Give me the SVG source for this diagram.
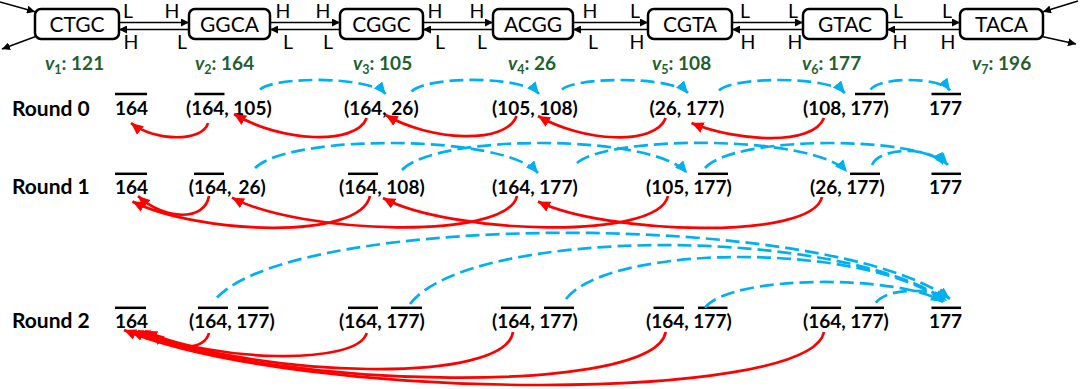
<svg xmlns="http://www.w3.org/2000/svg" width="1080" height="389" viewBox="0 0 1080 389">
<style>
.box{fill:#fff;stroke:#000;stroke-width:2.5}
.nt{font-family:Lato,"Liberation Sans",sans-serif;font-size:21px;text-anchor:middle;fill:#000}
.lb{font-family:Lato,"Liberation Sans",sans-serif;font-size:19.5px;text-anchor:middle;fill:#000}
.vl{font-family:Lato,"Liberation Sans",sans-serif;font-size:19px;font-weight:bold;fill:#1f5f32}
.rd{font-family:Lato,"Liberation Sans",sans-serif;font-size:21px;font-weight:bold;fill:#000}
.num{font-family:Lato,"Liberation Sans",sans-serif;font-size:19px;font-weight:bold;fill:#000}
.ol{stroke:#000;stroke-width:2.5}
.k{stroke:#000;stroke-width:1.5;fill:none;marker-end:url(#ak)}
.red{fill:none;stroke:#ff0000;stroke-width:2.7;marker-end:url(#ar)}
.blue{fill:none;stroke:#00b0f0;stroke-width:2.7;stroke-dasharray:14 6;marker-end:url(#ab)}
</style>
<defs>
<marker id="ak" markerWidth="9" markerHeight="8" refX="8" refY="4" orient="auto" markerUnits="userSpaceOnUse"><path d="M0,0 L8,4 L0,8 z" fill="#000"/></marker>
<marker id="ar" markerWidth="13" markerHeight="11" refX="12" refY="5.5" orient="auto" markerUnits="userSpaceOnUse"><path d="M0,0 L12,5.5 L0,11 z" fill="#ff0000"/></marker>
<marker id="ab" markerWidth="13" markerHeight="11" refX="12" refY="5.5" orient="auto" markerUnits="userSpaceOnUse"><path d="M0,0 L12,5.5 L0,11 z" fill="#00b0f0"/></marker>
</defs>
<rect width="1080" height="389" fill="#fff"/>

<g id="nodes">
<g id="n1"><rect class="box" x="35" y="9" width="84" height="30" rx="6"/><text class="nt" x="77" y="31.5">CTGC</text></g>
<g id="n2"><rect class="box" x="189" y="9" width="81" height="30" rx="6"/><text class="nt" x="229.5" y="31.5">GGCA</text></g>
<g id="n3"><rect class="box" x="340" y="9" width="83" height="30" rx="6"/><text class="nt" x="381.5" y="31.5">CGGC</text></g>
<g id="n4"><rect class="box" x="493" y="9" width="80" height="30" rx="6"/><text class="nt" x="533" y="31.5">ACGG</text></g>
<g id="n5"><rect class="box" x="648" y="9" width="84" height="30" rx="6"/><text class="nt" x="690" y="31.5">CGTA</text></g>
<g id="n6"><rect class="box" x="803" y="9" width="84" height="30" rx="6"/><text class="nt" x="845" y="31.5">GTAC</text></g>
<g id="n7"><rect class="box" x="960" y="9" width="83" height="30" rx="6"/><text class="nt" x="1001.5" y="31.5">TACA</text></g>
</g>

<g id="edge-labels">
<text class="lb" x="128" y="18">L</text><text class="lb" x="172" y="18">H</text><text class="lb" x="131" y="49">H</text><text class="lb" x="182" y="49">L</text>
<text class="lb" x="283" y="18">H</text><text class="lb" x="323" y="18">H</text><text class="lb" x="288" y="49">L</text><text class="lb" x="328" y="49">L</text>
<text class="lb" x="435" y="18">H</text><text class="lb" x="477" y="18">H</text><text class="lb" x="440" y="49">L</text><text class="lb" x="482" y="49">L</text>
<text class="lb" x="590" y="18">H</text><text class="lb" x="635" y="18">L</text><text class="lb" x="593" y="49">L</text><text class="lb" x="637" y="49">H</text>
<text class="lb" x="745" y="18">L</text><text class="lb" x="793" y="18">L</text><text class="lb" x="748" y="49">H</text><text class="lb" x="795" y="49">H</text>
<text class="lb" x="898" y="18">L</text><text class="lb" x="947" y="18">L</text><text class="lb" x="900" y="49">H</text><text class="lb" x="948" y="49">H</text>
</g>

<g id="values">
<text class="vl" x="45" y="69.5"><tspan font-style="italic">v</tspan><tspan font-size="12.5" dy="4">1</tspan><tspan dy="-4">: 121</tspan></text>
<text class="vl" x="195" y="69.5"><tspan font-style="italic">v</tspan><tspan font-size="12.5" dy="4">2</tspan><tspan dy="-4">: 164</tspan></text>
<text class="vl" x="353" y="69.5"><tspan font-style="italic">v</tspan><tspan font-size="12.5" dy="4">3</tspan><tspan dy="-4">: 105</tspan></text>
<text class="vl" x="508" y="69.5"><tspan font-style="italic">v</tspan><tspan font-size="12.5" dy="4">4</tspan><tspan dy="-4">: 26</tspan></text>
<text class="vl" x="652" y="69.5"><tspan font-style="italic">v</tspan><tspan font-size="12.5" dy="4">5</tspan><tspan dy="-4">: 108</tspan></text>
<text class="vl" x="802" y="69.5"><tspan font-style="italic">v</tspan><tspan font-size="12.5" dy="4">6</tspan><tspan dy="-4">: 177</tspan></text>
<text class="vl" x="972" y="69.5"><tspan font-style="italic">v</tspan><tspan font-size="12.5" dy="4">7</tspan><tspan dy="-4">: 196</tspan></text>
</g>

<g id="round0">
<text class="rd" x="12" y="115.5">Round 0</text>
<text class="num" x="115" y="115">164</text>
<text class="num" x="186" y="115">(164, 105)</text>
<text class="num" x="344" y="115">(164, 26)</text>
<text class="num" x="492" y="115">(105, 108)</text>
<text class="num" x="649.5" y="115">(26, 177)</text>
<text class="num" x="803" y="115">(108, 177)</text>
<text class="num" x="929" y="115">177</text>
<line class="ol" x1="115" y1="94" x2="147" y2="94"/>
<line class="ol" x1="194.5" y1="94" x2="224.5" y2="94"/>
<line class="ol" x1="855" y1="94" x2="885" y2="94"/>
<line class="ol" x1="931.5" y1="94" x2="961" y2="94"/>
</g>

<g id="round1">
<text class="rd" x="12" y="193.5">Round 1</text>
<text class="num" x="115" y="193.5">164</text>
<text class="num" x="188.7" y="193.5">(164,<tspan dx="7">26)</tspan></text>
<text class="num" x="339" y="193.5">(164, 108)</text>
<text class="num" x="492" y="193.5">(164, 177)</text>
<text class="num" x="646" y="193.5">(105, 177)</text>
<text class="num" x="810" y="193.5">(26, 177)</text>
<text class="num" x="929" y="193.5">177</text>
<line class="ol" x1="115" y1="173.8" x2="147" y2="173.8"/>
<line class="ol" x1="194" y1="173.8" x2="224" y2="173.8"/>
<line class="ol" x1="348" y1="173.8" x2="378" y2="173.8"/>
<line class="ol" x1="698" y1="173.8" x2="728" y2="173.8"/>
<line class="ol" x1="850" y1="173.8" x2="880" y2="173.8"/>
<line class="ol" x1="931.5" y1="173.8" x2="961" y2="173.8"/>
</g>

<g id="round2">
<text class="rd" x="12" y="328">Round 2</text>
<text class="num" x="115" y="328">164</text>
<text class="num" x="189" y="328">(164, 177)</text>
<text class="num" x="339" y="328">(164, 177)</text>
<text class="num" x="492" y="328">(164, 177)</text>
<text class="num" x="646" y="328">(164, 177)</text>
<text class="num" x="803" y="328">(164, 177)</text>
<text class="num" x="929" y="328">177</text>
<line class="ol" x1="115" y1="307.8" x2="146" y2="307.8"/>
<line class="ol" x1="198" y1="307.8" x2="228" y2="307.8"/>
<line class="ol" x1="238" y1="307.8" x2="268.5" y2="307.8"/>
<line class="ol" x1="348" y1="307.8" x2="378" y2="307.8"/>
<line class="ol" x1="391" y1="307.8" x2="422" y2="307.8"/>
<line class="ol" x1="501" y1="307.8" x2="531" y2="307.8"/>
<line class="ol" x1="544" y1="307.8" x2="574" y2="307.8"/>
<line class="ol" x1="653.5" y1="307.8" x2="684" y2="307.8"/>
<line class="ol" x1="698" y1="307.8" x2="727.5" y2="307.8"/>
<line class="ol" x1="811" y1="307.8" x2="841" y2="307.8"/>
<line class="ol" x1="855" y1="307.8" x2="884" y2="307.8"/>
<line class="ol" x1="931.5" y1="307.8" x2="961" y2="307.8"/>
</g>

<g id="connectors">
<path class="k" d="M0,2 L35,11.7"/>
<path class="k" d="M35,36.7 L2,49"/>
<path class="k" d="M1078,1 L1043,11.7"/>
<path class="k" d="M1043,36.7 L1076,44"/>
<path class="k" d="M119,22.5 L189,22.5"/><path class="k" d="M189,29.5 L119,29.5"/>
<path class="k" d="M270,22.5 L340,22.5"/><path class="k" d="M340,29.5 L270,29.5"/>
<path class="k" d="M423,22.5 L493,22.5"/><path class="k" d="M493,29.5 L423,29.5"/>
<path class="k" d="M573,22.5 L648,22.5"/><path class="k" d="M648,29.5 L573,29.5"/>
<path class="k" d="M732,22.5 L803,22.5"/><path class="k" d="M803,29.5 L732,29.5"/>
<path class="k" d="M887,22.5 L960,22.5"/><path class="k" d="M960,29.5 L887,29.5"/>

<path class="blue" d="M260,89.5 C275,76.1 370.6,76.1 385.7,94"/>
<path class="blue" d="M411.5,91.5 C426.8,75.7 523.7,75.7 539,94"/>
<path class="blue" d="M562,89.5 C577,76.3 673,76.3 688,93"/>
<path class="blue" d="M719,90.5 C734,76.1 830,76.1 845,93"/>
<path class="blue" d="M870.6,89.5 C880,76.7 940,76.7 950,90.5"/>
<path class="red" d="M208,123 C203,142 155,142 131,123"/>
<path class="red" d="M366.7,118 C356,146 280,142 234,114"/>
<path class="red" d="M516.5,116 C506,145 430,141 385.7,115"/>
<path class="red" d="M665.7,118 C655,146 583,142 538,116"/>
<path class="red" d="M824,118 C813,146 738,142 691.5,123"/>

<path class="blue" d="M255,168 C289,133.9 504,133.9 538,173"/>
<path class="blue" d="M402,170 C436,133.5 653,133.5 687,173"/>
<path class="blue" d="M577,163 C609,134.8 815,134.8 847,172"/>
<path class="blue" d="M705,168 C734,135.2 919,135.2 948,165"/>
<path class="blue" d="M872,165 C880,146.3 934,146.3 943,165"/>
<path class="red" d="M209,196 C205,221 165,221 138,196"/>
<path class="red" d="M370,196 C360,241 198,234 132.5,201.5"/>
<path class="red" d="M517,196 C507,241 300,234 232,197.6"/>
<path class="red" d="M668,196 C658,241 450,234 383,198"/>
<path class="red" d="M822,197 C812,241 605,234 538,201.5"/>

<path class="blue" d="M217,297.5 C300,211 830,211 950,299"/>
<path class="blue" d="M410,304 C470,226 840,226 947,301"/>
<path class="blue" d="M566,299 C610,242.5 870,242.5 945,302"/>
<path class="blue" d="M705,307.8 C730,274.4 900,274.4 943,302"/>
<path class="blue" d="M875.7,302.6 C888,288 925,288 950,297.5"/>
<path class="red" d="M209,333 C205,350 175,352 152,333"/>
<path class="red" d="M366.7,333 C358,366 210,362 145,331"/>
<path class="red" d="M513,332 C505,385 260,378 138,331"/>
<path class="red" d="M665.7,332 C655,396 280,390 131,331"/>
<path class="red" d="M824,332 C810,404 300,402 124,330"/>
</g>
</svg>
